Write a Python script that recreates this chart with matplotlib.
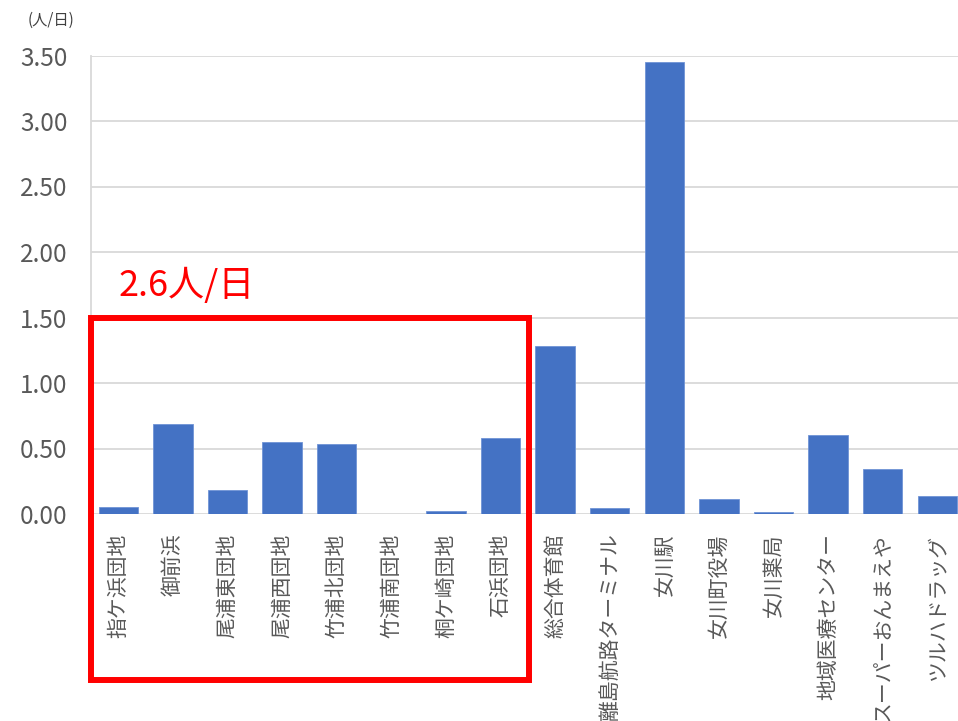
import matplotlib.pyplot as plt
import matplotlib.patches as patches

plt.rcParams['font.family'] = ['Noto Sans CJK JP', 'DejaVu Sans']

names = ['指ケ浜団地', '御前浜', '尾浦東団地', '尾浦西団地', '竹浦北団地', '竹浦南団地',
         '桐ケ崎団地', '石浜団地', '総合体育館', '離島航路ターミナル', '女川駅',
         '女川町役場', '女川薬局', '地域医療センター', 'スーパーおんまえや', 'ツルハドラッグ']
values = [0.05, 0.69, 0.18, 0.55, 0.535, 0.0,
          0.02, 0.58, 1.28, 0.045, 3.45,
          0.115, 0.018, 0.60, 0.34, 0.14]
yticks = [0, 0.5, 1.0, 1.5, 2.0, 2.5, 3.0, 3.5]

fig = plt.figure(figsize=(9.58, 7.21), dpi=100)
ax = fig.add_axes([91/958, 1-514/721, 1-91/958, (514-55.5)/721])

x = range(len(names))
ax.bar(x, values, width=0.72, color='#4472c4', edgecolor='#6f93d6', linewidth=0.6, zorder=3)

ax.set_ylim(0, 3.5)
ax.set_xlim(-0.5, 15.38)
ax.set_yticks(yticks)
ax.set_yticklabels(['%.2f' % v for v in yticks], fontsize=17.5, color='#595959')
ax.set_xticks(list(x))
ax.set_xticklabels(names, rotation=90, fontsize=15, color='#595959')
ax.tick_params(axis='both', length=0)
ax.tick_params(axis='y', pad=17)
ax.tick_params(axis='x', pad=14)
ax.grid(axis='y', color='#d9d9d9', linewidth=1.3, zorder=0)
for s in ['top', 'right', 'bottom']:
    ax.spines[s].set_visible(False)
ax.spines['left'].set_color('#d9d9d9')
ax.spines['left'].set_linewidth(1.3)

fig.text(28/958, 1-20/721, '(人/日)', fontsize=11, color='#404040', va='center')

# red highlight box around the housing-area bars
box = patches.Rectangle((91/958, 1-680/721), (529-91)/958, (680-318)/721,
                        transform=fig.transFigure, fill=False, edgecolor='red',
                        linewidth=4.3, clip_on=False, zorder=5)
fig.patches.append(box)
fig.text(119/958, 1-296/721, '2.6人/日', fontsize=26, color='red', va='baseline')

plt.savefig('out.png', dpi=100)
